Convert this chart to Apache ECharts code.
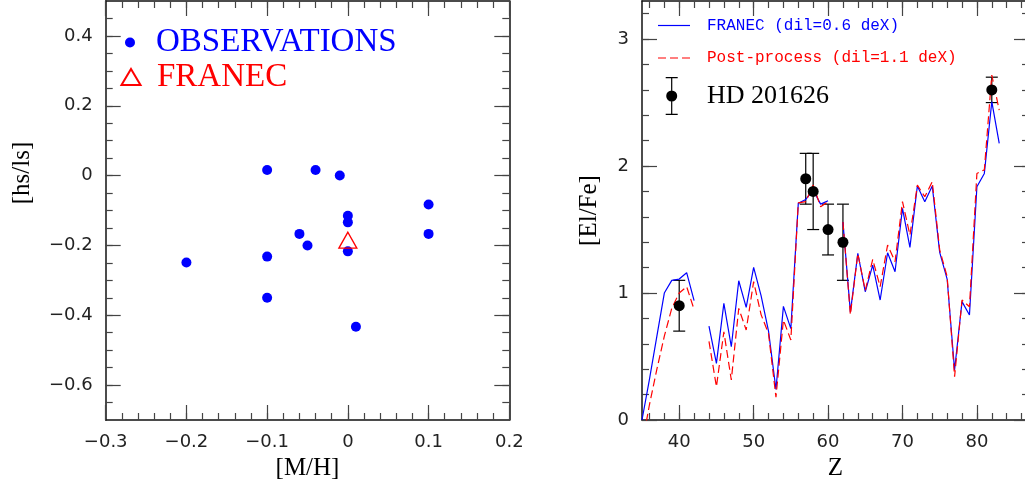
<!DOCTYPE html>
<html><head><meta charset="utf-8">
<script src="https://cdn.jsdelivr.net/npm/echarts@6/dist/echarts.min.js"></script>
<style>html,body{margin:0;padding:0;background:#fff}#c{width:1025px;height:493px}</style>
</head><body><div id="c"></div>
<script>
// ---------- Left panel data ----------
const obsMH   = [-0.1, -0.04, -0.01, 0.1, 0, 0, -0.06, 0.1, -0.05, 0, -0.1, -0.2, -0.1, 0.01];
const obsHsLs = [0.016, 0.016, 0, -0.083, -0.115, -0.134, -0.167, -0.167, -0.2, -0.217, -0.232, -0.249, -0.35, -0.433];
const franecMH   = [0];
const franecHsLs = [-0.185];
const leftXTicks = [-0.3, -0.2, -0.1, 0, 0.1, 0.2];
const leftYTicks = [-0.6, -0.4, -0.2, 0, 0.2, 0.4];

// ---------- Right panel data ----------
const elementZ = [35,36,37,38,39,40,41,42,43,44,45,46,47,48,49,50,51,52,53,54,55,56,57,58,59,60,61,62,63,64,65,66,67,68,69,70,71,72,73,74,75,76,77,78,79,80,81,82,83];
const franecEl = [0,0.32,0.66,1.0,1.10,1.11,1.16,0.94,null,0.74,0.446,0.918,0.577,1.097,0.887,1.202,0.98,0.70,0.24,0.895,0.72,1.706,1.737,1.811,1.70,1.727,null,1.56,0.85,1.312,1.01,1.22,0.945,1.317,1.168,1.667,1.36,1.843,1.719,1.843,1.32,1.11,0.394,0.932,0.827,1.837,1.942,2.507,2.178];
const postEl   = [-0.2,0.12,0.40,0.66,0.88,1.0,1.05,0.87,null,0.62,0.262,0.695,0.315,0.879,0.709,1.09,0.83,0.68,0.18,0.787,0.63,1.71,1.72,1.85,1.68,1.72,null,1.56,0.83,1.31,1.02,1.265,1.05,1.378,1.247,1.72,1.457,1.85,1.758,1.877,1.34,1.13,0.341,0.945,0.892,1.942,1.97,2.717,2.44];
const starZ   = [40, 57, 58, 60, 62, 82];
const starEl  = [0.9, 1.9, 1.8, 1.5, 1.4, 2.6];
const starErr = [0.2, 0.2, 0.3, 0.2, 0.3, 0.1];
const rightXTicks = [40, 50, 60, 70, 80];
const rightYTicks = [0, 1, 2, 3];

function steps(a, b, s) { const o = []; for (let v = a; v <= b + 1e-9; v += s) o.push(+v.toFixed(4)); return o; }
const leftXMinor  = steps(-0.28, 0.18, 0.02);
const leftYMinor  = steps(-0.65, 0.45, 0.05);
const rightXMinor = steps(36, 86, 2);
const rightYMinor = steps(0.2, 3.2, 0.2);

const fmt = v => String(+(+v).toFixed(2)).replace('-', '\u2212');
const TICKFONT = 'DejaVu Sans';
const NAMEFONT = 'Liberation Serif';

function axis(gridIndex, position, min, max, tickVals, tickLen, showLine, labelVals, extra) {
  return Object.assign({
    type: 'value', gridIndex, position, min, max,
    axisLine: { show: showLine, onZero: false, lineStyle: { color: '#111', width: 1.5 } },
    axisTick: { show: true, inside: true, length: tickLen, customValues: tickVals, lineStyle: { color: '#444', width: 1.2 } },
    axisLabel: labelVals ? { show: true, customValues: labelVals, formatter: fmt, margin: 13,
      fontFamily: TICKFONT, fontSize: 18, color: '#222' } : { show: false },
    splitLine: { show: false }
  }, extra || {});
}
const nameStyle = { fontFamily: NAMEFONT, fontSize: 25, color: '#000' };

const xAxes = [
  axis(0, 'bottom', -0.3, 0.2, leftXMinor, 7, true, null),
  axis(0, 'bottom', -0.3, 0.2, leftXTicks, 15, false, leftXTicks,
       { name: '[M/H]', nameLocation: 'middle', nameGap: 33, nameTextStyle: nameStyle }),
  axis(0, 'top', -0.3, 0.2, leftXMinor, 7, true, null),
  axis(0, 'top', -0.3, 0.2, leftXTicks, 15, false, null),
  axis(1, 'bottom', 35, 87, rightXMinor, 7, true, null),
  axis(1, 'bottom', 35, 87, rightXTicks, 15, false, rightXTicks,
       { name: 'Z', nameLocation: 'middle', nameGap: 33, nameTextStyle: nameStyle }),
  axis(1, 'top', 35, 87, rightXMinor, 7, true, null),
  axis(1, 'top', 35, 87, rightXTicks, 15, false, null)
];
const yAxes = [
  axis(0, 'left', -0.7, 0.5, leftYMinor, 7, true, null),
  axis(0, 'left', -0.7, 0.5, leftYTicks, 15, false, leftYTicks,
       { name: '[hs/ls]', nameLocation: 'middle', nameGap: 71,
         nameTextStyle: Object.assign({ padding: [0, 0, 0, 75] }, nameStyle) }),
  axis(0, 'right', -0.7, 0.5, leftYMinor, 7, true, null),
  axis(0, 'right', -0.7, 0.5, leftYTicks, 15, false, null),
  axis(1, 'left', 0, 3.3, rightYMinor, 7, true, null),
  axis(1, 'left', 0, 3.3, rightYTicks, 15, false, rightYTicks,
       { name: '[El/Fe]', nameLocation: 'middle', nameGap: 40, nameTextStyle: nameStyle }),
  axis(1, 'right', 0, 3.3, rightYMinor, 7, true, null),
  axis(1, 'right', 0, 3.3, rightYTicks, 15, false, null)
];

const zip = (a, b) => a.map((v, i) => [v, b[i]]);

const series = [
  { name: 'OBSERVATIONS', type: 'scatter', xAxisIndex: 1, yAxisIndex: 1,
    data: zip(obsMH, obsHsLs), symbol: 'circle', symbolSize: 10,
    itemStyle: { color: '#0000ff', opacity: 1 } },
  { name: 'FRANEC', type: 'scatter', xAxisIndex: 1, yAxisIndex: 1,
    data: zip(franecMH, franecHsLs), symbol: 'triangle', symbolSize: [18, 16],
    itemStyle: { color: 'rgba(255,255,255,0)', borderColor: '#ff0000', borderWidth: 1.3, opacity: 1 } },
  { name: 'FRANEC (dil=0.6 deX)', type: 'line', xAxisIndex: 5, yAxisIndex: 5,
    data: zip(elementZ, franecEl), symbol: 'none', showSymbol: false, connectNulls: false,
    lineStyle: { color: '#0000ff', width: 1.2 }, itemStyle: { color: '#0000ff' } },
  { name: 'Post-process (dil=1.1 deX)', type: 'line', xAxisIndex: 5, yAxisIndex: 5,
    data: zip(elementZ, postEl), symbol: 'none', showSymbol: false, connectNulls: false,
    lineStyle: { color: '#ff0000', width: 1.2, type: [8, 4] }, itemStyle: { color: '#ff0000' } },
  { name: 'errbars', type: 'custom', xAxisIndex: 5, yAxisIndex: 5,
    data: starZ.map((z, i) => [z, starEl[i], starErr[i]]),
    encode: { x: 0, y: 1 }, z: 3,
    renderItem: function (params, api) {
      const x = api.value(0), y = api.value(1), e = api.value(2);
      const t = api.coord([x, y + e]), b = api.coord([x, y - e]);
      const w = 6, st = { stroke: '#000', lineWidth: 1.2 };
      return { type: 'group', children: [
        { type: 'line', shape: { x1: t[0], y1: t[1], x2: b[0], y2: b[1] }, style: st },
        { type: 'line', shape: { x1: t[0] - w, y1: t[1], x2: t[0] + w, y2: t[1] }, style: st },
        { type: 'line', shape: { x1: b[0] - w, y1: b[1], x2: b[0] + w, y2: b[1] }, style: st }
      ] };
    } },
  { name: 'HD 201626', type: 'scatter', xAxisIndex: 5, yAxisIndex: 5,
    data: zip(starZ, starEl), symbol: 'circle', symbolSize: 11, z: 4,
    itemStyle: { color: '#000', opacity: 1 } }
];

const errIcon = 'path://M0 0H12V1.3H0Z M0 36.7H12V38H0Z M5.4 1H6.6V13.5H5.4Z M5.4 24.5H6.6V37H5.4Z M0.5 19A5.5 5.5 0 1 1 11.5 19A5.5 5.5 0 1 1 0.5 19Z';
const solidIcon = 'path://M0 0H32V1.2H0Z';
const dashIcon = 'path://M0 0H8V1.2H0Z M12 0H20V1.2H12Z M24 0H32V1.2H24Z';

function leg(name, left, top, w, h, font, size, color, padLeft, icon) {
  return { data: [{ name, icon }], left, top, padding: 0, orient: 'horizontal',
    itemWidth: w, itemHeight: h, selectedMode: false,
    textStyle: { fontFamily: font, fontSize: size, lineHeight: size + 3, color, padding: [0, 0, 0, padLeft] } };
}

const option = {
  animation: false,
  backgroundColor: '#fff',
  grid: [
    { left: 105.7, top: 1, width: 403.6, height: 419, outerBoundsMode: 'none', containLabel: false },
    { left: 642, top: 1, width: 387, height: 419, outerBoundsMode: 'none', containLabel: false }
  ],
  xAxis: xAxes,
  yAxis: yAxes,
  legend: [
    leg('OBSERVATIONS', 125, 24.5, 10, 10, NAMEFONT, 33, '#0000ff', 16, 'circle'),
    leg('FRANEC', 120.5, 59, 19, 16, NAMEFONT, 33, '#ff0000', 11.5, 'triangle'),
    leg('FRANEC (dil=0.6 deX)', 658, 16, 32, 1.2, 'Liberation Mono', 16, '#0000ff', 12, solidIcon),
    leg('Post-process (dil=1.1 deX)', 658, 48.5, 32, 1.2, 'Liberation Mono', 16, '#ff0000', 12, dashIcon),
    leg('HD 201626', 665.7, 77, 12, 38, NAMEFONT, 26, '#000', 24.3, errIcon)
  ],
  series
};
const chart = echarts.init(document.getElementById('c'), null, { renderer: 'canvas' });
chart.setOption(option);
</script></body></html>
